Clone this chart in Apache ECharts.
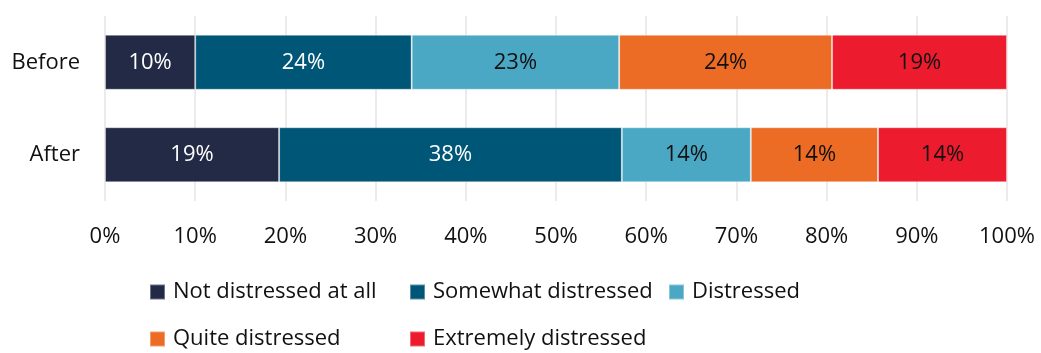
<!DOCTYPE html>
<html>
<head>
<meta charset="utf-8">
<script src="https://cdn.jsdelivr.net/npm/echarts@6/dist/echarts.min.js"></script>
<style>
  html, body { margin: 0; padding: 0; background: #fff; }
  #chart { width: 1041px; height: 353px; }
</style>
</head>
<body>
<div id="chart"></div>
<script>
// Share of respondents by level of distress, before and after
const periods = ['Before', 'After'];
const levels = ['Not distressed at all', 'Somewhat distressed', 'Distressed', 'Quite distressed', 'Extremely distressed'];
const notDistressed = [10, 19.3];
const somewhatDistressed = [24, 38];
const distressed = [23, 14.3];
const quiteDistressed = [23.6, 14.1];
const extremelyDistressed = [19.4, 14.3];
const tickLabels = ['0%', '10%', '20%', '30%', '40%', '50%', '60%', '70%', '80%', '90%', '100%'];

const colors = ['#222a45', '#005677', '#4ba8c4', '#ec6b25', '#ec1c2e'];
const labelColors = ['#ffffff', '#ffffff', '#111111', '#111111', '#111111'];
const seriesValues = [notDistressed, somewhatDistressed, distressed, quiteDistressed, extremelyDistressed];
const fontFamily = '"Segoe UI", "Open Sans", "Noto Sans", sans-serif';
const fontSize = 22;

const chart = echarts.init(document.getElementById('chart'), null, { renderer: 'canvas' });

const series = levels.map((name, i) => ({
  name: name,
  type: 'bar',
  stack: 'total',
  barWidth: 55,
  data: seriesValues[i],
  itemStyle: { color: colors[i], borderColor: 'rgba(255,255,255,0.35)', borderWidth: 1 },
  label: {
    show: true,
    position: 'inside',
    color: labelColors[i],
    fontFamily: fontFamily,
    fontSize: fontSize,
    formatter: p => Math.round(p.value) + '%'
  },
  emphasis: { disabled: true }
}));

// One legend block per item so the entries sit in fixed columns
const legendPos = [[149, 277], [409, 277], [668, 277], [149, 324], [409, 324]];
const legends = levels.map((name, i) => ({
  data: [name],
  left: legendPos[i][0],
  top: legendPos[i][1],
  itemWidth: 15,
  itemHeight: 15,
  itemGap: 0,
  padding: 0,
  icon: 'rect',
  selectedMode: false,
  textStyle: { fontFamily: fontFamily, fontSize: fontSize, lineHeight: 30, color: '#111', padding: [0, 0, 0, 3] }
}));

chart.setOption({
  animation: false,
  color: colors,
  grid: { left: 105, right: 34, top: 16, bottom: 152, containLabel: false },
  xAxis: {
    type: 'value',
    min: 0,
    max: 100,
    interval: 10,
    axisLine: { show: false },
    axisTick: { show: false },
    splitLine: { show: true, lineStyle: { color: '#ebebeb', width: 2 } },
    axisLabel: {
      margin: 25,
      fontFamily: fontFamily,
      fontSize: fontSize,
      color: '#111',
      formatter: v => tickLabels[Math.round(v / 10)]
    }
  },
  yAxis: {
    type: 'category',
    data: periods,
    inverse: true,
    axisLine: { show: false },
    axisTick: { show: false },
    axisLabel: { margin: 25, fontFamily: fontFamily, fontSize: fontSize, color: '#111' }
  },
  legend: legends,
  series: series
});
</script>
</body>
</html>
